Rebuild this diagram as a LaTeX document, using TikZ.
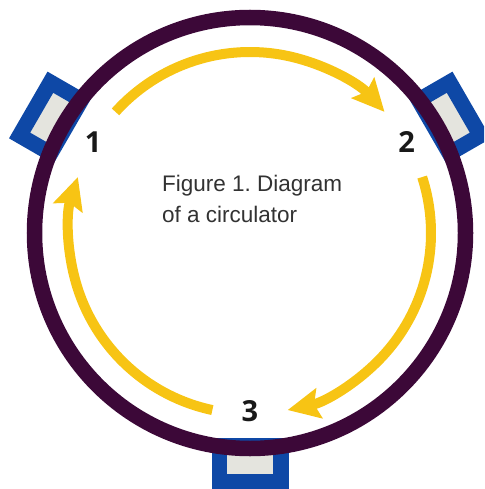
\documentclass[tikz,border=0pt]{standalone}
\usepackage{fontspec}
\setmainfont{Liberation Sans}
\newfontfamily\numfont{Open Sans}
\usetikzlibrary{arrows.meta}
\definecolor{ringpurple}{RGB}{60,8,56}
\definecolor{portblue}{RGB}{14,72,166}
\definecolor{portgray}{RGB}{228,228,222}
\definecolor{flowyellow}{RGB}{247,196,20}
\definecolor{capgray}{RGB}{50,50,50}
\frenchspacing

\begin{document}
\begin{tikzpicture}[x=1pt, y=-1pt,
  port/.style={draw=portblue, fill=portgray, line width=15.5pt, minimum width=61.5pt, minimum height=35.75pt, inner sep=0pt},
  portnum/.style={font=\numfont\bfseries\fontsize{29}{29}\selectfont, text=black!90, inner sep=0pt},
  flow/.style={draw=flowyellow, line width=10pt, -{Stealth[length=32pt, width=30pt, inset=5pt]}}]
\useasboundingbox (0,0) rectangle (484,489);
\clip (0,0) rectangle (484,489);
\coordinate (ring) at (250,233);
\node[port, rotate=-120] (port1) at ([shift={(210:230.4)}]ring) {};
\node[port, rotate=120] (port2) at ([shift={(330:230.4)}]ring) {};
\node[port] (port3) at ([shift={(90:230.4)}]ring) {};
\draw[ringpurple, line width=15.5pt] (ring) circle[radius=215.5];
\coordinate (s1) at ([shift={(222:181)}]ring);
\coordinate (s2) at ([shift={(342:181)}]ring);
\coordinate (s3) at ([shift={(102:181)}]ring);
\draw[flow] (s1) arc[start angle=222, end angle=318, radius=181];
\draw[flow] (s2) arc[start angle=342, end angle=438, radius=181];
\draw[flow] (s3) arc[start angle=102, end angle=198, radius=181];
\node[portnum] (n1) at ([shift={(210:181)}]ring) {1};
\node[portnum] (n2) at ([shift={(330:181)}]ring) {2};
\node[portnum] (n3) at ([shift={(90:178)}]ring) {3};
\node[anchor=base west, align=left, text=capgray, font=\fontsize{22.5}{31.5}\selectfont, inner sep=0pt] (caption) at (162,222.7) {Figure 1. Diagram\\of a circulator};
\end{tikzpicture}
\end{document}
